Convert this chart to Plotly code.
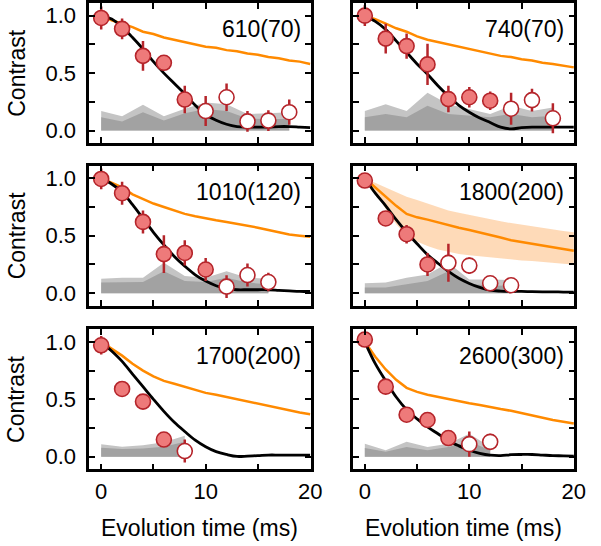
import plotly.graph_objects as go

# ---------------- data ----------------
t_curve = list(range(21))

labels = ["610(70)", "740(70)", "1010(120)", "1800(200)", "1700(200)", "2600(300)"]

# panel 1
p1_t = [0, 2, 4, 6, 8, 10, 12, 14, 16, 18]
p1_c = [0.98, 0.885, 0.65, 0.59, 0.27, 0.17, 0.29, 0.08, 0.087, 0.16]
p1_e = [0.10, 0.09, 0.13, 0.065, 0.12, 0.13, 0.12, 0.09, 0.09, 0.11]
p1_nfilled = 5
p1_black = [1.0, 0.97, 0.9, 0.81, 0.71, 0.6, 0.5, 0.41, 0.32, 0.22, 0.14, 0.09, 0.055, 0.035, 0.03, 0.03, 0.03, 0.035, 0.035, 0.03, 0.025]
p1_orange = [1.0, 0.96, 0.93, 0.9, 0.86, 0.84, 0.81, 0.79, 0.77, 0.75, 0.73, 0.72, 0.7, 0.69, 0.67, 0.66, 0.64, 0.63, 0.61, 0.6, 0.58]
p1_gray_hi = [0.17, 0.125, 0.225, 0.125, 0.19, 0.245, 0.23, 0.145, 0.15, 0.16]
p1_gray_lo = [0.115, 0.08, 0.16, 0.087, 0.15, 0.187, 0.17, 0.105, 0.1, 0.1]

# panel 2
p2_t = [0, 2, 4, 6, 8, 10, 12, 14, 16, 18]
p2_c = [1.0, 0.8, 0.735, 0.576, 0.274, 0.29, 0.26, 0.19, 0.265, 0.107]
p2_e = [0.09, 0.13, 0.11, 0.18, 0.115, 0.09, 0.08, 0.14, 0.1, 0.13]
p2_nfilled = 7
p2_black = [1.0, 0.95, 0.88, 0.78, 0.68, 0.58, 0.49, 0.39, 0.3, 0.22, 0.16, 0.11, 0.07, 0.03, 0.015, 0.025, 0.03, 0.03, 0.03, 0.03, 0.03]
p2_orange = [1.0, 0.97, 0.93, 0.89, 0.86, 0.82, 0.79, 0.77, 0.75, 0.73, 0.71, 0.69, 0.67, 0.65, 0.64, 0.62, 0.61, 0.59, 0.58, 0.565, 0.55]
p2_gray_hi = [0.17, 0.23, 0.17, 0.33, 0.23, 0.19, 0.145, 0.216, 0.17, 0.2]
p2_gray_lo = [0.115, 0.145, 0.115, 0.216, 0.145, 0.13, 0.115, 0.145, 0.115, 0.13]

# panel 3
p3_t = [0, 2, 4, 6, 8, 10, 12, 14, 16]
p3_c = [0.994, 0.87, 0.62, 0.34, 0.35, 0.206, 0.057, 0.158, 0.097]
p3_e = [0.09, 0.1, 0.1, 0.165, 0.11, 0.1, 0.1, 0.1, 0.08]
p3_nfilled = 6
p3_black = [1.0, 0.95, 0.88, 0.77, 0.65, 0.53, 0.42, 0.32, 0.235, 0.16, 0.105, 0.065, 0.04, 0.03, 0.03, 0.03, 0.03, 0.025, 0.02, 0.015, 0.015]
p3_orange = [1.0, 0.96, 0.92, 0.86, 0.82, 0.78, 0.75, 0.72, 0.69, 0.67, 0.65, 0.635, 0.62, 0.605, 0.59, 0.57, 0.55, 0.53, 0.51, 0.5, 0.49]
p3_gray_hi = [0.126, 0.135, 0.135, 0.264, 0.15, 0.135, 0.19, 0.135, 0.126]
p3_gray_lo = [0.092, 0.092, 0.097, 0.19, 0.106, 0.097, 0.135, 0.092, 0.077]

# panel 4
p4_t = [0, 2, 4, 6, 8, 10, 12, 14]
p4_c = [0.98, 0.65, 0.513, 0.25, 0.264, 0.24, 0.086, 0.069]
p4_e = [0.06, 0.03, 0.08, 0.1, 0.165, 0.07, 0.04, 0.04]
p4_nfilled = 4
p4_black = [1.0, 0.87, 0.76, 0.64, 0.53, 0.43, 0.335, 0.26, 0.19, 0.13, 0.085, 0.05, 0.026, 0.018, 0.015, 0.015, 0.013, 0.012, 0.012, 0.01, 0.01]
p4_orange = [1.0, 0.92, 0.84, 0.76, 0.69, 0.66, 0.64, 0.615, 0.59, 0.57, 0.55, 0.53, 0.51, 0.485, 0.46, 0.445, 0.43, 0.415, 0.4, 0.385, 0.37]
p4_orange_hi = [1.0, 0.96, 0.92, 0.88, 0.84, 0.81, 0.78, 0.75, 0.72, 0.7, 0.68, 0.66, 0.64, 0.625, 0.61, 0.595, 0.58, 0.565, 0.55, 0.54, 0.53]
p4_orange_lo = [1.0, 0.87, 0.74, 0.6, 0.5, 0.45, 0.41, 0.38, 0.36, 0.34, 0.33, 0.32, 0.31, 0.3, 0.29, 0.285, 0.28, 0.27, 0.265, 0.255, 0.25]
p4_gray_hi = [0.086, 0.092, 0.135, 0.163, 0.264, 0.12, 0.12, 0.115]
p4_gray_lo = [0.05, 0.05, 0.077, 0.106, 0.19, 0.077, 0.07, 0.063]

# panel 5
p5_t = [0, 2, 4, 6, 8]
p5_c = [0.97, 0.59, 0.48, 0.15, 0.05]
p5_e = [0.08, 0.04, 0.06, 0.06, 0.1]
p5_nfilled = 4
p5_black = [1.0, 0.92, 0.83, 0.72, 0.61, 0.5, 0.395, 0.3, 0.22, 0.145, 0.088, 0.045, 0.02, 0.003, 0.006, 0.01, 0.015, 0.015, 0.015, 0.015, 0.015]
p5_orange = [1.0, 0.94, 0.88, 0.81, 0.75, 0.7, 0.66, 0.635, 0.61, 0.585, 0.556, 0.54, 0.52, 0.5, 0.48, 0.46, 0.44, 0.42, 0.4, 0.385, 0.37]
p5_gray_hi = [0.108, 0.088, 0.1, 0.126, 0.184]
p5_gray_lo = [0.079, 0.067, 0.073, 0.088, 0.13]

# panel 6
p6_t = [0, 2, 4, 6, 8, 10, 12]
p6_c = [1.02, 0.61, 0.366, 0.32, 0.163, 0.11, 0.13]
p6_e = [0.06, 0.03, 0.06, 0.04, 0.065, 0.11, 0.07]
p6_nfilled = 5
p6_black = [1.0, 0.81, 0.66, 0.52, 0.41, 0.33, 0.26, 0.2, 0.14, 0.095, 0.057, 0.03, 0.014, 0.01, 0.018, 0.02, 0.02, 0.015, 0.01, 0.008, 0.005]
p6_orange = [1.0, 0.87, 0.76, 0.67, 0.6, 0.565, 0.54, 0.52, 0.5, 0.485, 0.466, 0.45, 0.43, 0.415, 0.4, 0.38, 0.357, 0.34, 0.32, 0.305, 0.29]
p6_gray_hi = [0.114, 0.057, 0.13, 0.086, 0.114, 0.2, 0.086]
p6_gray_lo = [0.077, 0.043, 0.086, 0.057, 0.086, 0.134, 0.057]

x_tickvals = [0, 5, 10, 15, 20]
x_ticktext = ["0", "", "10", "", "20"]
y_tickvals = [0, 0.25, 0.5, 0.75, 1.0]
y_ticktext = ["0.0", "", "0.5", "", "1.0"]

panels = [
    dict(t=p1_t, c=p1_c, e=p1_e, nf=p1_nfilled, black=p1_black, orange=p1_orange, ghi=p1_gray_hi, glo=p1_gray_lo),
    dict(t=p2_t, c=p2_c, e=p2_e, nf=p2_nfilled, black=p2_black, orange=p2_orange, ghi=p2_gray_hi, glo=p2_gray_lo),
    dict(t=p3_t, c=p3_c, e=p3_e, nf=p3_nfilled, black=p3_black, orange=p3_orange, ghi=p3_gray_hi, glo=p3_gray_lo),
    dict(t=p4_t, c=p4_c, e=p4_e, nf=p4_nfilled, black=p4_black, orange=p4_orange, ghi=p4_gray_hi, glo=p4_gray_lo,
         ohi=p4_orange_hi, olo=p4_orange_lo),
    dict(t=p5_t, c=p5_c, e=p5_e, nf=p5_nfilled, black=p5_black, orange=p5_orange, ghi=p5_gray_hi, glo=p5_gray_lo),
    dict(t=p6_t, c=p6_c, e=p6_e, nf=p6_nfilled, black=p6_black, orange=p6_orange, ghi=p6_gray_hi, glo=p6_gray_lo),
]

# ---------------- styling / layout ----------------
W, H = 601, 546
FONT = "Liberation Sans, Arial, Helvetica, sans-serif"
RED = "#b5252b"
PINK = "#ee7a7a"
ORANGE = "#ff8a00"
LIGHTGRAY = "#c4c4c4"
DARKGRAY = "#a2a2a2"
TICKSIZE = 22
TITLESIZE = 23

col_px = [(91, 317), (360, 586)]
row_px = [(0, 141), (163.5, 304.5), (328, 469)]

fig = go.Figure()
layout = dict(width=W, height=H, margin=dict(l=0, r=0, t=0, b=0),
              paper_bgcolor="white", plot_bgcolor="white", showlegend=False,
              font=dict(family=FONT, size=TICKSIZE, color="black"))
annotations = []

for i, p in enumerate(panels):
    r, c = divmod(i, 2)
    n = i + 1
    xa = "x" if n == 1 else f"x{n}"
    ya = "y" if n == 1 else f"y{n}"
    xkey = "xaxis" if n == 1 else f"xaxis{n}"
    ykey = "yaxis" if n == 1 else f"yaxis{n}"
    x0, x1 = col_px[c]
    y0, y1 = row_px[r]
    layout[xkey] = dict(domain=[x0 / W, x1 / W], range=[-1.15, 20.05], anchor=ya,
                        showgrid=False, zeroline=False, showline=True, linewidth=2.5,
                        linecolor="black", mirror="allticks", ticks="inside", ticklen=6,
                        tickwidth=2, tickcolor="black", tickvals=x_tickvals,
                        ticktext=x_ticktext if r == 2 else [""] * 5,
                        tickfont=dict(size=TICKSIZE, family=FONT), fixedrange=True)
    layout[ykey] = dict(domain=[1 - y1 / H, 1 - y0 / H], range=[-0.11, 1.11], anchor=xa,
                        showgrid=False, zeroline=False, showline=True, linewidth=2.5,
                        linecolor="black", mirror="allticks", ticks="inside", ticklen=6,
                        tickwidth=2, tickcolor="black", tickvals=y_tickvals,
                        ticktext=y_ticktext if c == 0 else [""] * 5,
                        ticklabelstandoff=6,
                        tickfont=dict(size=TICKSIZE, family=FONT), fixedrange=True)

    zeros = [0.0] * len(p["t"])
    # gray bands
    fig.add_trace(go.Scatter(x=p["t"], y=zeros, mode="lines", line=dict(width=0),
                             xaxis=xa, yaxis=ya, hoverinfo="skip"))
    fig.add_trace(go.Scatter(x=p["t"], y=p["ghi"], mode="lines", line=dict(width=0),
                             fill="tonexty", fillcolor=LIGHTGRAY, xaxis=xa, yaxis=ya))
    fig.add_trace(go.Scatter(x=p["t"], y=zeros, mode="lines", line=dict(width=0),
                             xaxis=xa, yaxis=ya, hoverinfo="skip"))
    fig.add_trace(go.Scatter(x=p["t"], y=p["glo"], mode="lines", line=dict(width=0),
                             fill="tonexty", fillcolor=DARKGRAY, xaxis=xa, yaxis=ya))
    # orange uncertainty band
    if "ohi" in p:
        fig.add_trace(go.Scatter(x=t_curve, y=p["olo"], mode="lines", line=dict(width=0),
                                 xaxis=xa, yaxis=ya, hoverinfo="skip"))
        fig.add_trace(go.Scatter(x=t_curve, y=p["ohi"], mode="lines", line=dict(width=0),
                                 fill="tonexty", fillcolor="rgba(253,205,160,0.75)",
                                 xaxis=xa, yaxis=ya))
    # curves
    fig.add_trace(go.Scatter(x=t_curve, y=p["orange"], mode="lines",
                             line=dict(color=ORANGE, width=2.5), xaxis=xa, yaxis=ya))
    fig.add_trace(go.Scatter(x=t_curve, y=p["black"], mode="lines",
                             line=dict(color="black", width=2.8, shape="spline"),
                             xaxis=xa, yaxis=ya))
    # data points
    nf = p["nf"]
    for sl, fillc in ((slice(0, nf), PINK), (slice(nf, None), "white")):
        fig.add_trace(go.Scatter(
            x=p["t"][sl], y=p["c"][sl], mode="markers",
            marker=dict(size=15, color=fillc, line=dict(color=RED, width=1.6)),
            error_y=dict(type="data", array=p["e"][sl], visible=True, color=RED,
                         thickness=2.5, width=0),
            xaxis=xa, yaxis=ya))

    annotations.append(dict(text=labels[i], xref=f"{xa} domain", yref=ya, x=1, y=0.88,
                            xanchor="right", yanchor="middle", xshift=-8,
                            showarrow=False, font=dict(size=TITLESIZE, family=FONT)))

# axis titles
for r in range(3):
    y0, y1 = row_px[r]
    annotations.append(dict(text="Contrast", xref="paper", yref="paper", x=17 / W,
                            y=1 - (y0 + y1) / 2 / H, textangle=-90, showarrow=False,
                            xanchor="center", yanchor="middle", font=dict(size=TITLESIZE, family=FONT)))
for c in range(2):
    x0, x1 = col_px[c]
    annotations.append(dict(text="Evolution time (ms)", xref="paper", yref="paper",
                            x=(x0 + x1) / 2 / W, y=1 - 528 / H, showarrow=False,
                            xanchor="center", yanchor="middle", font=dict(size=TITLESIZE, family=FONT)))

layout["annotations"] = annotations
fig.update_layout(**layout)
fig.write_html("out.html", config={"displayModeBar": False},
               post_script="document.body.style.margin='0px';document.body.style.overflow='hidden';")
